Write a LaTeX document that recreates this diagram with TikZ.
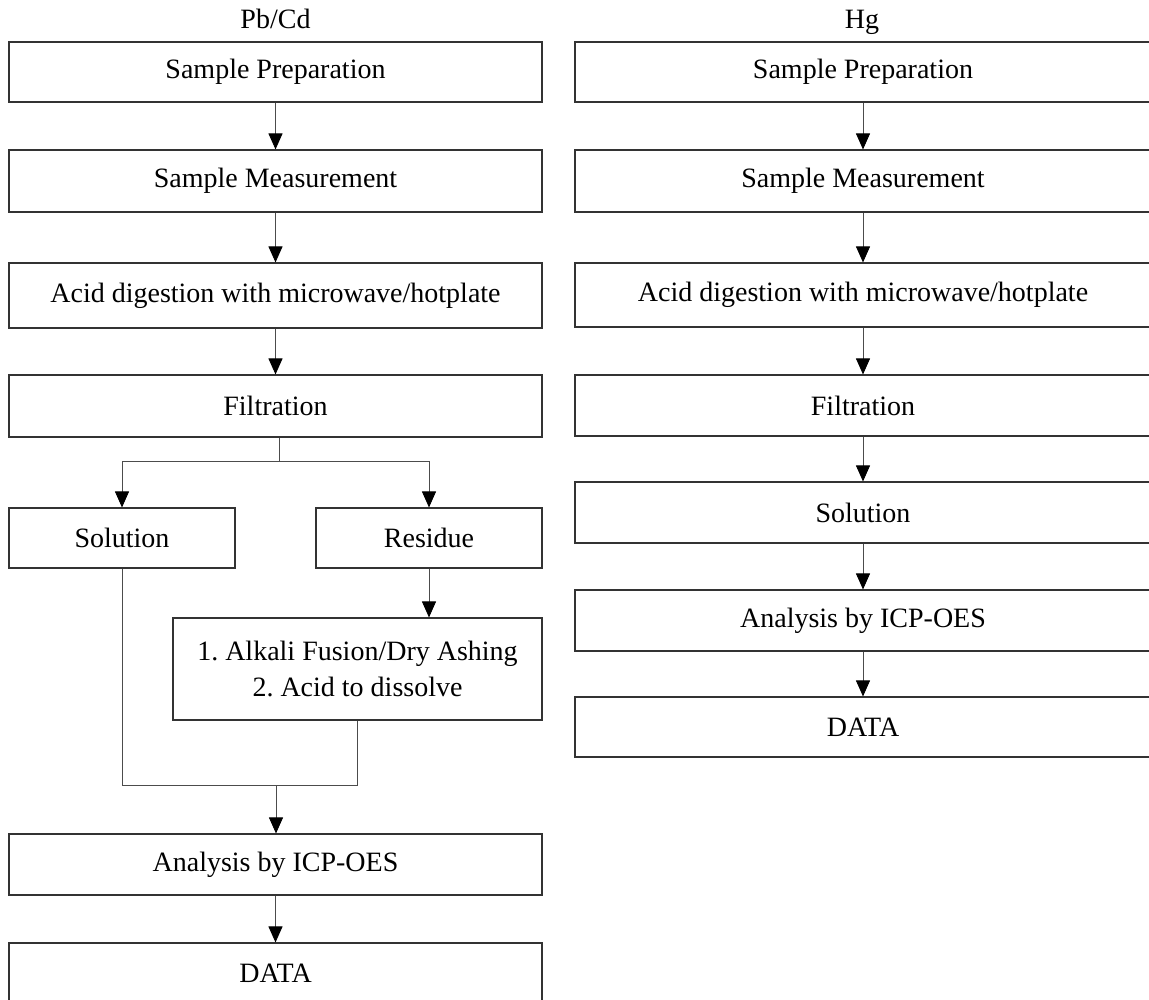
\documentclass[tikz,border=0pt]{standalone}
\usepackage{fontspec}
\setmainfont{Liberation Serif}
\usetikzlibrary{arrows.meta}

\begin{document}
\frenchspacing
\begin{tikzpicture}[
  x=1pt, y=-1pt,
  stepbox/.style={draw=black!80, line width=1.1pt, inner sep=0pt,
    font=\fontsize{28}{36}\selectfont, align=center},
  title/.style={font=\fontsize{28}{34}\selectfont, anchor=base},
  link/.style={draw=black!70, line width=0.9pt},
  arr/.style={link, -{Triangle[width=14pt,length=16pt,black]}},
]
\useasboundingbox (0,0) rectangle (1149,1000);
\clip (0,0) rectangle (1149,1000);

% Pb/Cd
\node[title] (ltitle) at (275.5,29) {Pb/Cd};
\node[stepbox, minimum width=533pt, minimum height=60pt] (lprep) at (275.5,72) {Sample Preparation};
\node[stepbox, minimum width=533pt, minimum height=62pt] (lmeas) at (275.5,181) {Sample Measurement};
\node[stepbox, minimum width=533pt, minimum height=65pt] (ldig) at (275.5,295.5) {Acid digestion with microwave/hotplate};
\node[stepbox, minimum width=533pt, minimum height=62pt] (lfilt) at (275.5,406) {Filtration};
\node[stepbox, minimum width=226pt, minimum height=60pt] (lsol) at (122,538) {Solution};
\node[stepbox, minimum width=226pt, minimum height=60pt] (lres) at (429,538) {Residue};
\node[stepbox, minimum width=369pt, minimum height=102pt] (lalk) at (357.5,669) {1. Alkali Fusion/Dry Ashing\\2. Acid to dissolve};
\node[stepbox, minimum width=533pt, minimum height=61pt] (lana) at (275.5,864.5) {Analysis by ICP-OES};
\node[stepbox, minimum width=533pt, minimum height=61pt] (ldata) at (275.5,973.5) {DATA};

\coordinate (lsplit) at (279,461);
\coordinate (lmerge) at (276,785);

\draw[arr] (lprep) -- (lmeas);
\draw[arr] (lmeas) -- (ldig);
\draw[arr] (ldig) -- (lfilt);
\draw[link] (lfilt.south -| lsplit) -- (lsplit);
\draw[arr] (lsplit) -| (lsol.north);
\draw[arr] (lsplit) -| (lres.north);
\draw[arr] (lres.south) -- (lres.south |- lalk.north);
\draw[link] (lsol.south) |- (lmerge);
\draw[link] (lalk.south) |- (lmerge);
\draw[arr] (lmerge) -- (lmerge |- lana.north);
\draw[arr] (lana) -- (ldata);

% Hg
\node[title] (rtitle) at (862,29) {Hg};
\node[stepbox, minimum width=576pt, minimum height=60pt] (rprep) at (863,72) {Sample Preparation};
\node[stepbox, minimum width=576pt, minimum height=62pt] (rmeas) at (863,181) {Sample Measurement};
\node[stepbox, minimum width=576pt, minimum height=64pt] (rdig) at (863,295) {Acid digestion with microwave/hotplate};
\node[stepbox, minimum width=576pt, minimum height=61pt] (rfilt) at (863,405.5) {Filtration};
\node[stepbox, minimum width=576pt, minimum height=61pt] (rsol) at (863,512.5) {Solution};
\node[stepbox, minimum width=576pt, minimum height=61pt] (rana) at (863,620.5) {Analysis by ICP-OES};
\node[stepbox, minimum width=576pt, minimum height=60pt] (rdata) at (863,727) {DATA};

\draw[arr] (rprep) -- (rmeas);
\draw[arr] (rmeas) -- (rdig);
\draw[arr] (rdig) -- (rfilt);
\draw[arr] (rfilt) -- (rsol);
\draw[arr] (rsol) -- (rana);
\draw[arr] (rana) -- (rdata);
\end{tikzpicture}
\end{document}
